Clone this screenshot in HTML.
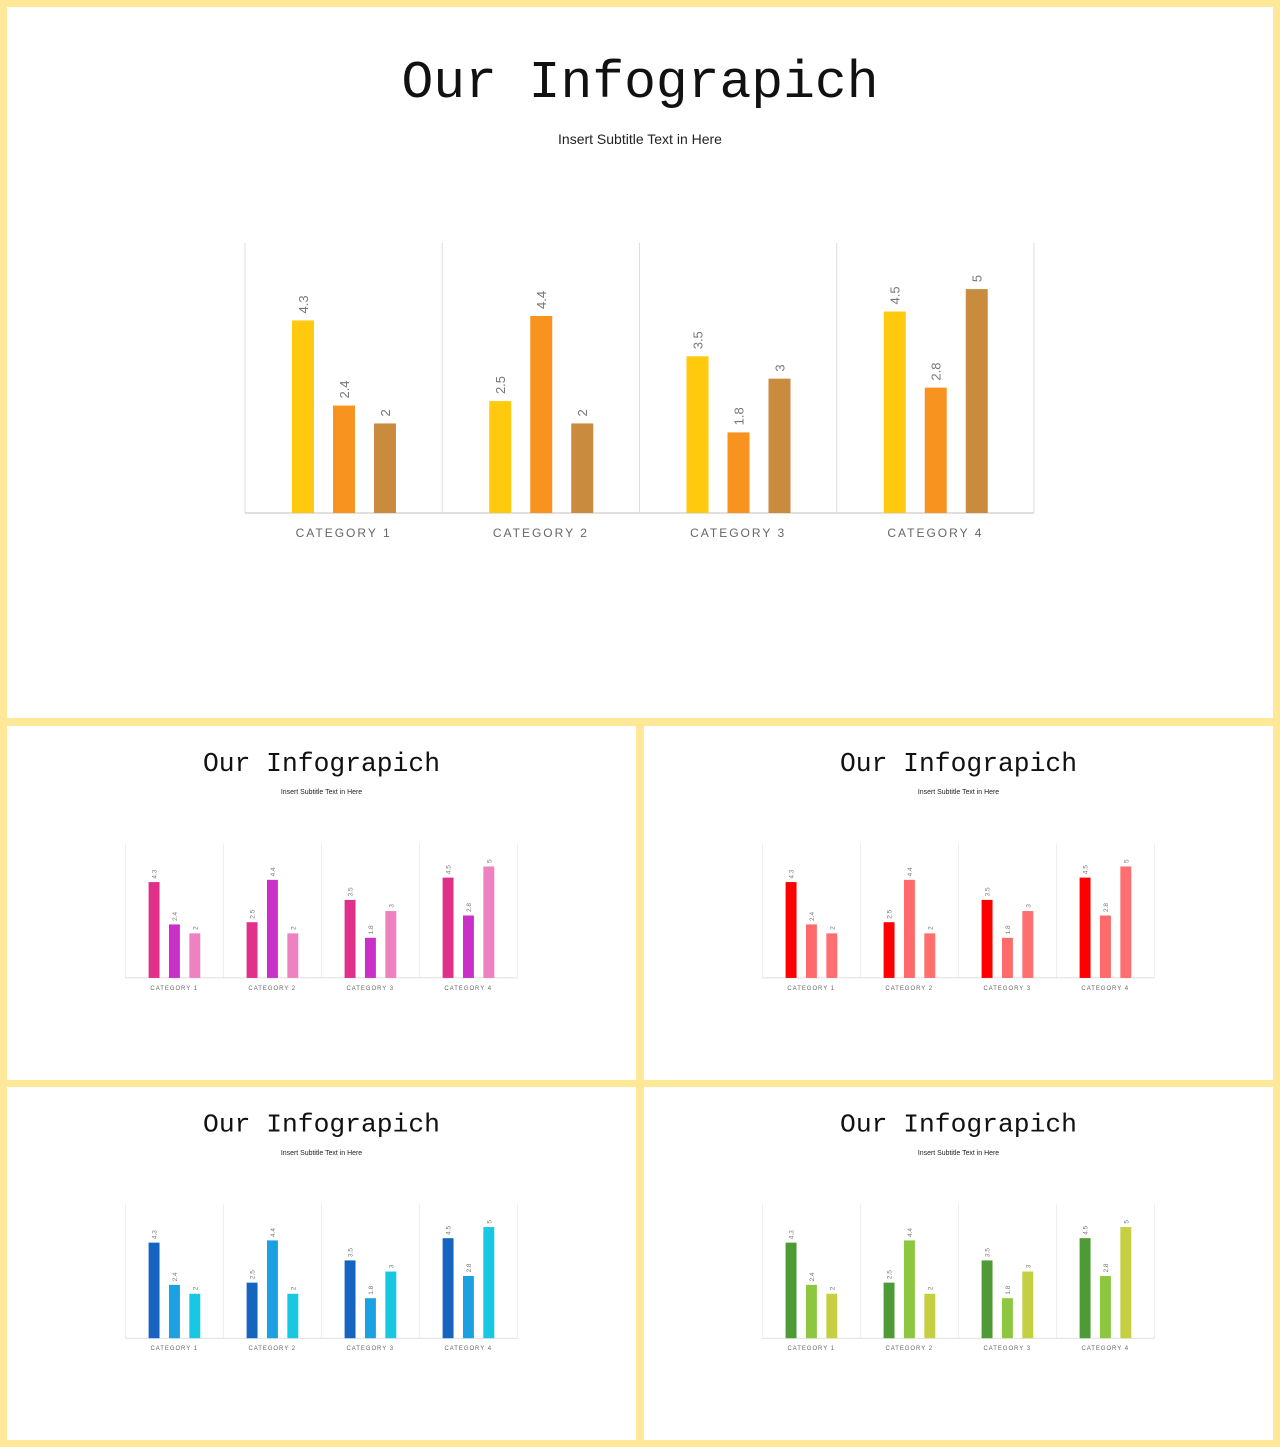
<!DOCTYPE html>
<html><head><meta charset="utf-8"><style>
html,body{margin:0;padding:0;background:#FFE897;}
body{width:1280px;height:1447px;position:relative;overflow:hidden;}
svg{position:absolute;background:#fff;display:block;}
</style></head><body>
<svg id="p0" style="left:7px;top:7px;width:1266px;height:711px"></svg>
<svg id="p1" style="left:7px;top:726px;width:629px;height:354px"></svg>
<svg id="p2" style="left:644px;top:726px;width:629px;height:354px"></svg>
<svg id="p3" style="left:7px;top:1087px;width:629px;height:353px"></svg>
<svg id="p4" style="left:644px;top:1087px;width:629px;height:353px"></svg>
<script>
const categories = ["CATEGORY 1","CATEGORY 2","CATEGORY 3","CATEGORY 4"];
const series1 = [4.3, 2.5, 3.5, 4.5];
const series2 = [2.4, 4.4, 1.8, 2.8];
const series3 = [2, 2, 3, 5];
const valueLabels1 = ["4.3","2.5","3.5","4.5"];
const valueLabels2 = ["2.4","4.4","1.8","2.8"];
const valueLabels3 = ["2","2","3","5"];
const palettes = [
  ["#FFC90E","#F7931E","#C98B3E"],
  ["#E0308A","#C930C8","#EE82C0"],
  ["#FF0000","#FF6B6B","#FF6F6F"],
  ["#1565C0","#1BA1E2","#17C8E0"],
  ["#4E9A35","#8DC63F","#C4CF43"]
];
const NS="http://www.w3.org/2000/svg";
const X0=238, X1=1027, Y0=236, Y1=506, YMAX=6.03;
const catW=(X1-X0)/categories.length;
function yScale(v){return Y1-(v/YMAX)*(Y1-Y0);}
function xBar(ci,si){return X0+catW*ci+47+si*41;}
function mk(parent,tag,attrs){const e=document.createElementNS(NS,tag);for(const k in attrs)e.setAttribute(k,attrs[k]);parent.appendChild(e);return e;}
function draw(id,pal){
  const s=document.getElementById(id);
  s.setAttribute('viewBox','0 0 1266 711');
  s.setAttribute('preserveAspectRatio','none');
  const t=mk(s,'text',{x:633,y:90,'text-anchor':'middle','font-family':'Liberation Mono, monospace','font-size':53,fill:'#111'});
  
  
  t.textContent='Our Infograpich';
  const st=mk(s,'text',{x:633,y:137,'text-anchor':'middle','font-family':'Liberation Sans, sans-serif','font-size':14,fill:'#222'});
  
  
  st.textContent='Insert Subtitle Text in Here';
  for(let i=0;i<=categories.length;i++){
    const gl=mk(s,'line',{x1:X0+catW*i,x2:X0+catW*i,y1:Y0,y2:Y1,stroke:'#dddddd','stroke-width':1});
    
    
  }
  const bl=mk(s,'line',{x1:X0,x2:X1,y1:Y1,y2:Y1,stroke:'#d5d5d5','stroke-width':1.5});
  
  
  const all=[series1,series2,series3], labs=[valueLabels1,valueLabels2,valueLabels3];
  categories.forEach((c,ci)=>{
    const cl=mk(s,'text',{x:X0+catW*(ci+0.5),y:530,'text-anchor':'middle','font-family':'Liberation Sans, sans-serif','font-size':12,'letter-spacing':2,fill:'#666'});
    
    
    cl.textContent=c;
    all.forEach((ser,si)=>{
      const x=xBar(ci,si), y=yScale(ser[ci]);
      const r=mk(s,'rect',{x:x,y:y,width:22,height:Y1-y,fill:pal[si]});
      
      
      const lx=x+11+5, ly=y-7;
      const vl=mk(s,'text',{x:lx,y:ly,transform:'rotate(-90 '+lx+' '+ly+')','font-family':'Liberation Sans, sans-serif','font-size':13,fill:'#777'});
      
      
      vl.textContent=labs[si][ci];
    });
  });
}
['p0','p1','p2','p3','p4'].forEach((id,i)=>draw(id,palettes[i]));
</script>
</body></html>
